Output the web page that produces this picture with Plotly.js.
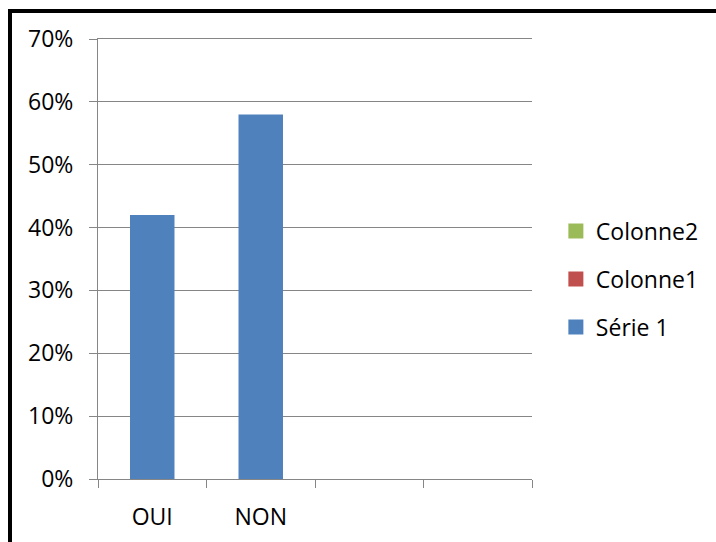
<!DOCTYPE html>
<html>
<head>
<meta charset="utf-8">
<script src="https://cdn.plot.ly/plotly-3.0.1.min.js"></script>
<style>
  html, body { margin: 0; padding: 0; background: #fff; }
  #frame { position: absolute; left: 0; top: 0; width: 716px; height: 542px; overflow: hidden; }
  #edge { position: absolute; left: 8px; top: 9px; width: 720px; height: 560px;
          border-top: 4px solid #000; border-left: 4px solid #000; pointer-events: none; z-index: 5; }
  #chart { position: absolute; left: 0; top: 0; width: 716px; height: 542px; }
</style>
</head>
<body>
<div id="frame">
  <div id="chart"></div>
  <div id="edge"></div>
</div>
<script>
// Category slots along the x axis (two named answers, two empty slots)
const categories = ['OUI', 'NON', '\u2002', '\u2003'];
// Share of answers per category
const serie1 = [0.42, 0.58, null, null];
const colonne1 = [null, null, null, null];
const colonne2 = [null, null, null, null];

const seriesNames = ['Série 1', 'Colonne1', 'Colonne2'];
const seriesColors = ['#4F81BD', '#C0504D', '#9BBB59'];
const empty = [null, null, null, null];

const font = { family: 'Open Sans, sans-serif', size: 23, color: '#000' };

// Plotted bars (no legend entry of their own)
const bars = (y, i) => ({
  type: 'bar',
  x: categories,
  y: y,
  name: seriesNames[i],
  width: 0.41,
  marker: { color: seriesColors[i], line: { width: 0 } },
  showlegend: false,
  hoverinfo: 'x+y+name'
});

// Legend keys: square swatches in each series colour
const key = (i, legendId) => ({
  type: 'scatter',
  mode: 'markers',
  x: categories,
  y: empty,
  name: seriesNames[i],
  marker: { color: seriesColors[i], symbol: 'square', size: 15, line: { width: 0 } },
  legend: legendId,
  showlegend: true,
  hoverinfo: 'skip'
});

const traces = [
  bars(serie1, 0),
  bars(colonne1, 1),
  bars(colonne2, 2),
  key(0, 'legend3'),
  key(1, 'legend2'),
  key(2, 'legend')
];

const legendBase = (yc) => ({
  x: 1.055, xanchor: 'left', y: yc, yanchor: 'middle',
  font: font, bgcolor: 'rgba(0,0,0,0)', borderwidth: 0, itemsizing: 'trace'
});

const gray = '#868686';

const layout = {
  width: 716,
  height: 542,
  margin: { l: 98, r: 184, t: 39, b: 63 },
  paper_bgcolor: '#fff',
  plot_bgcolor: '#fff',
  font: font,
  barmode: 'overlay',
  showlegend: true,
  legend: legendBase(0.5636),
  legend2: legendBase(0.4545),
  legend3: legendBase(0.3455),
  xaxis: {
    type: 'category',
    categoryorder: 'array',
    categoryarray: categories,
    range: [-0.5, 3.5],
    showgrid: false,
    showline: true,
    mirror: true,
    linecolor: gray,
    linewidth: 1,
    ticks: 'outside',
    tickson: 'boundaries',
    ticklen: 8,
    tickcolor: gray,
    tickwidth: 1,
    tickfont: font,
    ticklabelstandoff: 17,
    zeroline: false,
    fixedrange: true
  },
  yaxis: {
    range: [0, 0.7],
    dtick: 0.1,
    tick0: 0,
    tickformat: '.0%',
    showgrid: true,
    gridcolor: gray,
    gridwidth: 1,
    showline: true,
    linecolor: gray,
    linewidth: 1,
    ticks: 'outside',
    ticklen: 8,
    tickcolor: gray,
    tickwidth: 1,
    tickfont: font,
    ticklabelstandoff: 11,
    zeroline: false,
    fixedrange: true
  }
};

Plotly.newPlot('chart', traces, layout, { staticPlot: true, displayModeBar: false });
</script>
</body>
</html>
